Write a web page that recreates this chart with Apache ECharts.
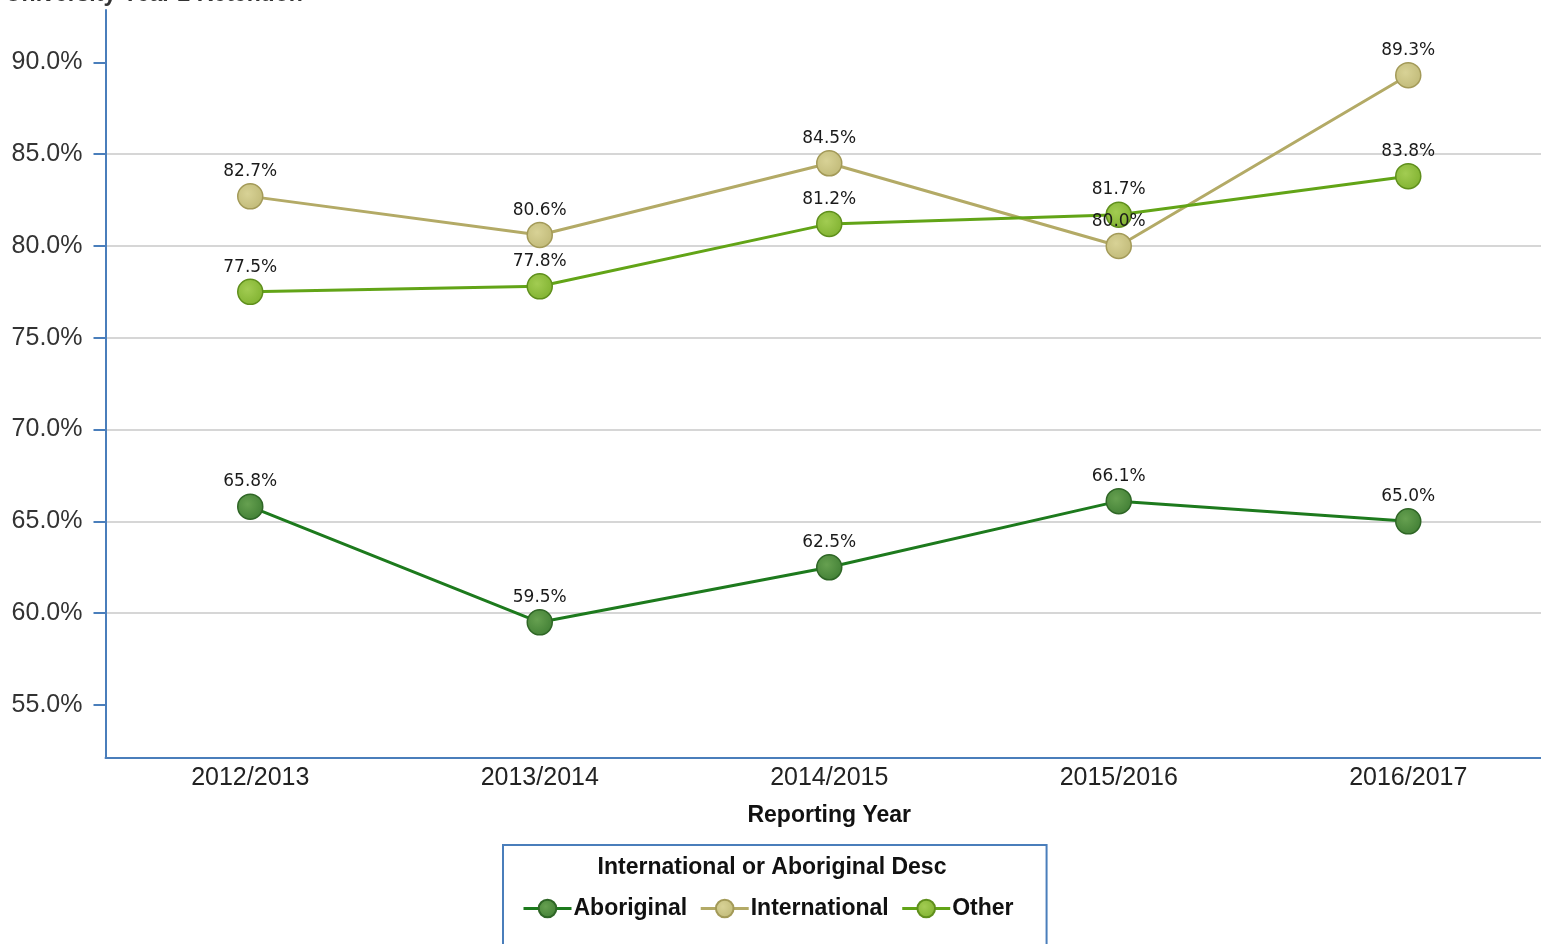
<!DOCTYPE html>
<html>
<head>
<meta charset="utf-8">
<script src="https://cdn.jsdelivr.net/npm/echarts@6/dist/echarts.min.js"></script>
<style>html,body{margin:0;padding:0;background:#fff;overflow:hidden}#c{width:1553px;height:944px}</style>
</head>
<body>
<div id="c"></div>
<script>
const categories = ['2012/2013', '2013/2014', '2014/2015', '2015/2016', '2016/2017'];
const aboriginal = [65.8, 59.5, 62.5, 66.1, 65.0];
const international = [82.7, 80.6, 84.5, 80.0, 89.3];
const other = [77.5, 77.8, 81.2, 81.7, 83.8];
const yTicks = [55, 60, 65, 70, 75, 80, 85, 90];

const chart = echarts.init(document.getElementById('c'));
const font = 'DejaVu Sans, sans-serif';
const afont = '"Liberation Sans", Arial, sans-serif';

function mk(name, data, line, fill, border) {
  return {
    name: name, type: 'line', data: data,
    symbol: 'circle', symbolSize: 25,
    lineStyle: { color: line, width: 3 },
    itemStyle: {
      color: new echarts.graphic.RadialGradient(0.4, 0.4, 0.7, [
        { offset: 0, color: fill[0] }, { offset: 1, color: fill[1] }
      ]),
      borderColor: border, borderWidth: 1.5
    },
    label: {
      show: true, position: 'top', distance: 3,
      formatter: p => p.value.toFixed(1) + '%',
      fontFamily: font, fontSize: 17, color: '#1a1a1a'
    },
    emphasis: { disabled: true },
    animation: false
  };
}

chart.setOption({
  animation: false,
  title: {
    text: 'University Year 2 Retention', left: 0, top: -22,
    textStyle: { fontFamily: afont, fontSize: 23, fontWeight: 'bold', color: '#333' }
  },
  grid: { left: 105.5, top: 10, right: 0, height: 747.3, containLabel: false },
  xAxis: {
    type: 'category', data: categories, boundaryGap: true,
    name: 'Reporting Year', nameLocation: 'middle', nameGap: 47,
    nameTextStyle: { fontFamily: afont, fontSize: 23, fontWeight: 'bold', color: '#111' },
    axisLine: { lineStyle: { color: '#4a7ebb', width: 2 } },
    axisTick: { show: false },
    axisLabel: { fontFamily: afont, fontSize: 25, color: '#222', margin: 8 },
    splitLine: { show: false }
  },
  yAxis: {
    type: 'value', min: 52.15, max: 92.85,
    splitNumber: 8, minInterval: 5, maxInterval: 5,
    axisLine: { show: true, lineStyle: { color: '#4a7ebb', width: 2 } },
    axisTick: { show: true, length: 12, lineStyle: { color: '#4a7ebb', width: 2 }, customValues: yTicks },
    axisLabel: {
      fontFamily: afont, fontSize: 25, color: '#333', margin: 23,
      customValues: yTicks,
      formatter: v => v.toFixed(1) + '%'
    },
    splitLine: { show: true, showMinLine: false, showMaxLine: false, lineStyle: { color: '#c8c8c8', width: 1.5 } }
  },
  legend: {
    left: 503, top: 845,
    padding: [52, 33, 40, 19],
    borderColor: '#4a7ebb', borderWidth: 2,
    itemWidth: 48, itemHeight: 22, itemGap: 12,
    lineStyle: { width: 3 },
    textStyle: { fontFamily: afont, fontSize: 23, fontWeight: 'bold', color: '#111', padding: [0, 0, 0, -3] },
    data: ['Aboriginal', 'International', 'Other']
  },
  graphic: [{
    type: 'text', x: 772, y: 868,
    style: { text: 'International or Aboriginal Desc', font: 'bold 23px ' + afont, fill: '#111', align: 'center', verticalAlign: 'middle' }
  }],
  series: [
    mk('Aboriginal', aboriginal, '#1d7a1d', ['#66a050', '#3f7d33'], '#2f6626'),
    mk('International', international, '#b3aa66', ['#d8d296', '#bfb876'], '#a39a58'),
    mk('Other', other, '#62a417', ['#a2cc52', '#7eb02e'], '#5f8f1c')
  ]
});
</script>
</body>
</html>
